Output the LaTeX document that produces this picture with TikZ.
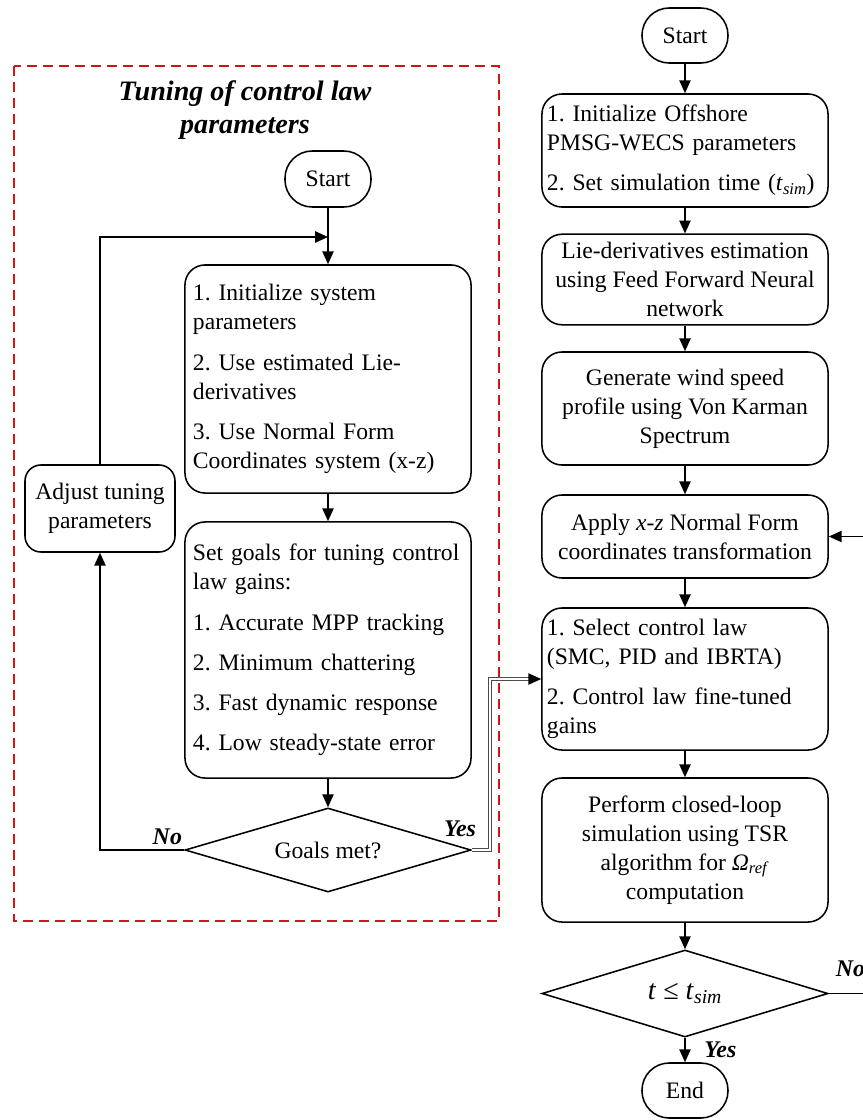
\documentclass[tikz,border=0pt]{standalone}
\usepackage{fontspec}
\setmainfont{Liberation Serif}
\usepackage{tikz}
\usetikzlibrary{shapes.geometric,arrows.meta}

\definecolor{tuneRed}{RGB}{204,24,24}
\frenchspacing

\begin{document}
\begin{tikzpicture}[
  x=0.025cm, y=-0.025cm,
  txt/.style={font=\fontsize{16.8}{20.6}\selectfont},
  proc/.style={
    rectangle, draw, line width=1.1pt, rounded corners=0.5cm,
    minimum width=7.15cm, inner sep=0.2cm, txt
  },
  procL/.style={proc, text width=6.75cm, align=left},
  procC/.style={proc, align=center},
  term/.style={
    rectangle, draw, line width=1.1pt, rounded corners=0.68cm,
    minimum width=2.15cm, minimum height=1.4cm, txt
  },
  decision/.style={
    diamond, draw, line width=1.1pt, aspect=3.4, inner sep=0pt,
    minimum width=7.15cm, txt
  },
  arr/.style={-{Triangle[length=3.2mm,width=2.8mm]}, line width=1.1pt},
  yesline/.style={double=white, double distance=1.5pt, line width=1pt, draw=black!70},
  lbl/.style={font=\fontsize{17}{20}\selectfont\bfseries\itshape},
  tuneframe/.style={draw=tuneRed, line width=1.4pt, dash pattern=on 0.25cm off 0.15cm}
]

\path[use as bounding box, fill=white] (0,0) rectangle (863,1120);

% ---- Tuning loop (left) ----
\draw[tuneframe] (14,66) rectangle (499,921);
\node[align=center, font=\fontsize{20}{24}\selectfont\bfseries\itshape] (title) at (245,110)
  {Tuning of control law\\parameters};

\node[term] (startL) at (328,179) {Start};
\node[procL, minimum height=5.7cm] (initL) at (328,379)
  {1. Initialize system\\parameters\\[8pt]
   2. Use estimated Lie-\\derivatives\\[8pt]
   3. Use Normal Form\\Coordinates system (x-z)};
\node[procL, minimum height=6.4cm] (goals) at (328,650)
  {Set goals for tuning control\\law gains:\\[8pt]
   1. Accurate MPP tracking\\[8pt]
   2. Minimum chattering\\[8pt]
   3. Fast dynamic response\\[8pt]
   4. Low steady-state error};
\node[decision, minimum height=2.1cm] (met) at (328,850) {Goals met?};
\node[procC, minimum width=3.75cm, minimum height=2.175cm, rounded corners=0.4cm, inner sep=0.1cm] (adjust) at (100,508.5)
  {Adjust tuning\\parameters};

\coordinate (loopin) at (328,237);
\coordinate (yesbend) at (490,850);
\coordinate (yesend) at (530,679);

\draw[arr] (startL) -- (initL);
\draw[arr] (initL) -- (goals);
\draw[arr] (goals) -- (met);
\draw[arr] (met.west) -| node[lbl, pos=0.1, above] {No} (adjust.south);
\draw[arr] (adjust.north) |- (loopin);
\node[lbl] (yesL) at (460,829) {Yes};

% ---- Main simulation flow (right) ----
\node[term, minimum height=1.375cm] (startR) at (685,35.5) {Start};
\node[procL, text width=6.9cm, inner xsep=0.125cm, minimum height=2.825cm] (initR) at (685,150.5)
  {1. Initialize Offshore\\PMSG-WECS parameters\\[8pt]
   2. Set simulation time (\textit{t}\textsubscript{\textit{sim}})};
\node[procC, minimum height=2.125cm] (lie) at (685,279.5)
  {Lie-derivatives estimation\\using Feed Forward Neural\\network};
\node[procC, minimum height=2.825cm] (wind) at (685,408.5)
  {Generate wind speed\\profile using Von Karman\\Spectrum};
\node[procC, minimum height=2.075cm] (xz) at (685,536.5)
  {Apply \textit{x-z} Normal Form\\coordinates transformation};
\node[procL, text width=6.9cm, inner xsep=0.125cm, minimum height=3.55cm] (law) at (685,679)
  {1. Select control law\\(SMC, PID and IBRTA)\\[8pt]
   2. Control law fine-tuned\\gains};
\node[procC, minimum height=3.6cm] (sim) at (685,850)
  {Perform closed-loop\\simulation using TSR\\algorithm for \textit{Ω}\textsubscript{\textit{ref}}\\computation};
\node[decision, minimum height=2.175cm, font=\fontsize{20}{24}\selectfont] (tsim) at (685,993.5)
  {\textit{t} ≤ \textit{t}\textsubscript{\textit{sim}}};
\node[term, minimum height=1.375cm] (endR) at (685,1090.5) {End};

\coordinate (noR) at (905,993.5);

\draw[arr] (startR) -- (initR);
\draw[arr] (initR) -- (lie);
\draw[arr] (lie) -- (wind);
\draw[arr] (wind) -- (xz);
\draw[arr] (xz) -- (law);
\draw[arr] (law) -- (sim);
\draw[arr] (sim) -- (tsim);
\draw[arr] (tsim) -- node[lbl, right=0.35cm] {Yes} (endR);
\draw[arr] (tsim.east) -- (noR) |- (xz.east);
\node[lbl, anchor=south west] (noRlbl) at (831,982) {No};

% ---- Yes link between the two flows ----
\draw[yesline] (met.east) -- (yesbend) |- (yesend);
\draw[arr] (yesend) -- (law.west);

\end{tikzpicture}
\end{document}
